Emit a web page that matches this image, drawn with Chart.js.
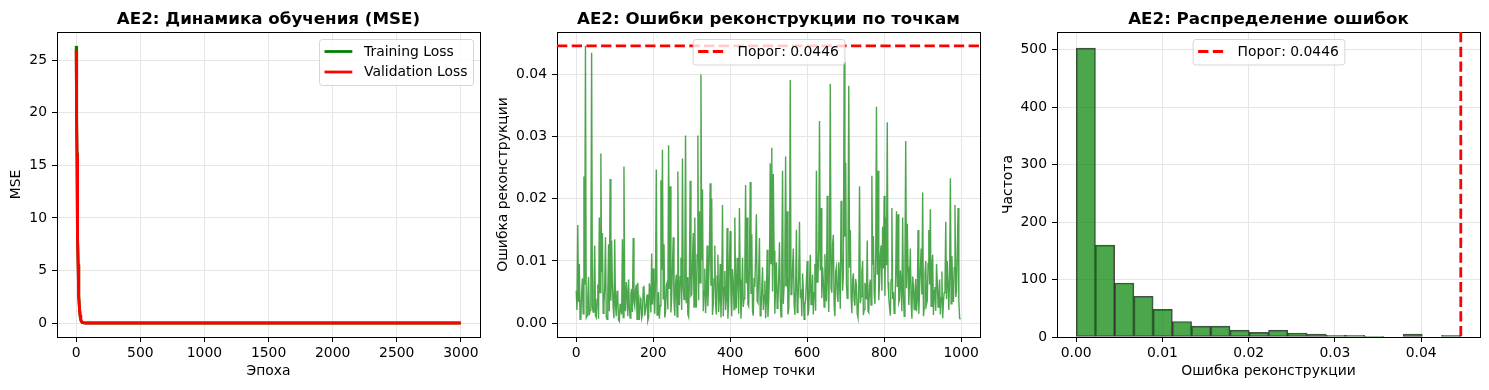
<!DOCTYPE html>
<html>
<head>
<meta charset="utf-8">
<script src="https://cdn.jsdelivr.net/npm/chart.js@4.4.1/dist/chart.umd.min.js"></script>
<style>
    html, body { margin: 0; padding: 0; background: #fff; }
    #wrap { position: relative; width: 1489px; height: 390px; }
    canvas { position: absolute; top: 0; }
</style>
</head>
<body>
<div id="wrap">
    <canvas id="lossChart" width="490" height="390" style="left:0px"></canvas>
    <canvas id="errorChart" width="500" height="390" style="left:490px"></canvas>
    <canvas id="histChart" width="499" height="390" style="left:990px"></canvas>
</div>
<script>
// --- panel 1: learning curves ---
const epochs = [0, 2, 4, 6, 8, 10, 12, 15, 18, 21, 25, 30, 35, 40, 50, 60, 80, 100, 200, 500, 1000, 1500, 2000, 2500, 2999];
const trainLoss = [26.37, 23.0, 19.5, 16.2, 13.2, 10.5, 8.2, 5.6, 3.8, 2.6, 1.5, 0.75, 0.35, 0.17, 0.05, 0.02, 0.012, 0.01, 0.008, 0.007, 0.006, 0.006, 0.005, 0.005, 0.005];
const valLoss = [25.95, 22.6, 19.2, 15.9, 12.9, 10.3, 8.0, 5.5, 3.7, 2.5, 1.45, 0.72, 0.34, 0.16, 0.05, 0.02, 0.012, 0.01, 0.008, 0.007, 0.006, 0.006, 0.005, 0.005, 0.005];
const epochTicks = [0, 500, 1000, 1500, 2000, 2500, 3000];
const lossTicks = [0, 5, 10, 15, 20, 25];

// --- panel 2: per-point reconstruction error (every 2nd point) ---
const pointStep = 2;
const pointErrors = [
    0.0052, 0.0021, 0.0158, 0.0034, 0.0095, 0.0006, 0.0008, 0.0048, 0.0072, 0.0015, 0.0236, 0.0062, 0.0446, 0.0009, 0.0012, 0.0041, 0.0074, 0.0013, 0.0021, 0.0067,
    0.0435, 0.0027, 0.0018, 0.0055, 0.0125, 0.0012, 0.0009, 0.0038, 0.0062, 0.0007, 0.0170, 0.0049, 0.0273, 0.0082, 0.0145, 0.0016, 0.0031, 0.0058, 0.0138, 0.0010,
    0.0006, 0.0044, 0.0127, 0.0019, 0.0232, 0.0036, 0.0133, 0.0061, 0.0024, 0.0008, 0.0135, 0.0029, 0.0011, 0.0052, 0.0040, 0.0005, 0.0003, 0.0031, 0.0022, 0.0014,
    0.0135, 0.0009, 0.0252, 0.0043, 0.0019, 0.0066, 0.0048, 0.0011, 0.0070, 0.0025, 0.0008, 0.0047, 0.0055, 0.0018, 0.0137, 0.0035, 0.0027, 0.0053, 0.0062, 0.0006,
    0.0065, 0.0023, 0.0005, 0.0040, 0.0036, 0.0008, 0.0014, 0.0057, 0.0060, 0.0012, 0.0021, 0.0033, 0.0046, 0.0004, 0.0009, 0.0064, 0.0052, 0.0017, 0.0112, 0.0030,
    0.0088, 0.0042, 0.0015, 0.0071, 0.0247, 0.0013, 0.0034, 0.0050, 0.0007, 0.0028, 0.0230, 0.0086, 0.0279, 0.0039, 0.0127, 0.0009, 0.0018, 0.0061, 0.0065, 0.0022,
    0.0286, 0.0055, 0.0220, 0.0017, 0.0041, 0.0092, 0.0138, 0.0034, 0.0012, 0.0063, 0.0078, 0.0010, 0.0244, 0.0048, 0.0029, 0.0075, 0.0105, 0.0021, 0.0265, 0.0058,
    0.0038, 0.0081, 0.0302, 0.0032, 0.0074, 0.0014, 0.0010, 0.0069, 0.0229, 0.0044, 0.0046, 0.0097, 0.0145, 0.0026, 0.0170, 0.0053, 0.0025, 0.0110, 0.0302, 0.0037,
    0.0180, 0.0065, 0.0400, 0.0102, 0.0215, 0.0019, 0.0052, 0.0088, 0.0016, 0.0045, 0.0125, 0.0027, 0.0068, 0.0113, 0.0225, 0.0060, 0.0200, 0.0013, 0.0031, 0.0072,
    0.0125, 0.0030, 0.0014, 0.0076, 0.0110, 0.0018, 0.0043, 0.0095, 0.0009, 0.0056, 0.0190, 0.0011, 0.0057, 0.0084, 0.0021, 0.0039, 0.0153, 0.0007, 0.0035, 0.0101,
    0.0148, 0.0049, 0.0011, 0.0087, 0.0066, 0.0022, 0.0170, 0.0058, 0.0024, 0.0105, 0.0082, 0.0015, 0.0185, 0.0070, 0.0007, 0.0044, 0.0105, 0.0026, 0.0039, 0.0079,
    0.0222, 0.0064, 0.0170, 0.0030, 0.0027, 0.0091, 0.0227, 0.0047, 0.0143, 0.0019, 0.0012, 0.0073, 0.0058, 0.0108, 0.0175, 0.0036, 0.0033, 0.0082, 0.0137, 0.0012,
    0.0019, 0.0055, 0.0090, 0.0021, 0.0044, 0.0068, 0.0008, 0.0035, 0.0118, 0.0010, 0.0036, 0.0079, 0.0257, 0.0096, 0.0282, 0.0051, 0.0240, 0.0117, 0.0015, 0.0063,
    0.0098, 0.0024, 0.0032, 0.0072, 0.0130, 0.0043, 0.0010, 0.0088, 0.0245, 0.0031, 0.0061, 0.0105, 0.0268, 0.0059, 0.0180, 0.0014, 0.0023, 0.0077, 0.0391, 0.0046,
    0.0047, 0.0090, 0.0120, 0.0033, 0.0013, 0.0061, 0.0150, 0.0017, 0.0028, 0.0074, 0.0163, 0.0040, 0.0054, 0.0011, 0.0080, 0.0052, 0.0006, 0.0029, 0.0037, 0.0068,
    0.0100, 0.0012, 0.0021, 0.0057, 0.0110, 0.0030, 0.0045, 0.0078, 0.0014, 0.0049, 0.0095, 0.0020, 0.0245, 0.0066, 0.0072, 0.0118, 0.0325, 0.0085, 0.0185, 0.0040,
    0.0090, 0.0067, 0.0026, 0.0111, 0.0060, 0.0035, 0.0205, 0.0072, 0.0018, 0.0104, 0.0385, 0.0056, 0.0049, 0.0127, 0.0142, 0.0028, 0.0011, 0.0083, 0.0090, 0.0046,
    0.0034, 0.0098, 0.0068, 0.0023, 0.0197, 0.0115, 0.0052, 0.0076, 0.0420, 0.0139, 0.0258, 0.0062, 0.0040, 0.0107, 0.0382, 0.0089, 0.0150, 0.0043, 0.0016, 0.0070,
    0.0080, 0.0036, 0.0028, 0.0071, 0.0060, 0.0015, 0.0009, 0.0054, 0.0220, 0.0032, 0.0043, 0.0082, 0.0100, 0.0013, 0.0022, 0.0065, 0.0056, 0.0038, 0.0133, 0.0019,
    0.0017, 0.0061, 0.0070, 0.0029, 0.0237, 0.0094, 0.0140, 0.0048, 0.0031, 0.0106, 0.0348, 0.0078, 0.0245, 0.0037, 0.0065, 0.0112, 0.0125, 0.0052, 0.0155, 0.0088,
    0.0205, 0.0044, 0.0170, 0.0093, 0.0323, 0.0066, 0.0041, 0.0025, 0.0012, 0.0070, 0.0185, 0.0039, 0.0050, 0.0016, 0.0027, 0.0081, 0.0180, 0.0058, 0.0175, 0.0033,
    0.0038, 0.0085, 0.0064, 0.0019, 0.0170, 0.0047, 0.0011, 0.0102, 0.0293, 0.0056, 0.0160, 0.0090, 0.0029, 0.0068, 0.0120, 0.0034, 0.0007, 0.0075, 0.0060, 0.0022,
    0.0045, 0.0071, 0.0019, 0.0038, 0.0150, 0.0015, 0.0053, 0.0087, 0.0120, 0.0046, 0.0210, 0.0011, 0.0024, 0.0079, 0.0100, 0.0030, 0.0036, 0.0096, 0.0150, 0.0062,
    0.0183, 0.0027, 0.0090, 0.0110, 0.0013, 0.0052, 0.0058, 0.0020, 0.0095, 0.0067, 0.0026, 0.0043, 0.0070, 0.0014, 0.0041, 0.0083, 0.0008, 0.0035, 0.0049, 0.0061,
    0.0163, 0.0039, 0.0100, 0.0064, 0.0021, 0.0076, 0.0233, 0.0031, 0.0108, 0.0055, 0.0034, 0.0089, 0.0190, 0.0042, 0.0052, 0.0120, 0.0185, 0.0036, 0.0008, 0.0006
];
const pointTicks = [0, 200, 400, 600, 800, 1000];
const errorTicks = [0, 0.01, 0.02, 0.03, 0.04];

const threshold = 0.0446;

// --- panel 3: histogram ---
const binEdges = [0, 0.00223, 0.00446, 0.00669, 0.00892, 0.01115, 0.01338, 0.01561, 0.01784, 0.02007, 0.0223,
    0.02453, 0.02676, 0.02899, 0.03122, 0.03345, 0.03568, 0.03791, 0.04014, 0.04237, 0.0446];
const binCounts = [503, 160, 94, 71, 48, 27, 19, 19, 12, 8, 12, 7, 5, 3, 3, 1, 0, 5, 0, 3];
const histXTicks = [0, 0.01, 0.02, 0.03, 0.04];
const freqTicks = [0, 100, 200, 300, 400, 500];

const FONT = "'DejaVu Sans', sans-serif";
const FS = 13.9;

function makeScale(min, max, tickValues, fmt, size, titleText, titlePad, horizontal) {
    return {
        type: 'linear',
        min: min,
        max: max,
        offset: false,
        afterBuildTicks: s => { s.ticks = tickValues.map(v => ({ value: v })); },
        afterFit: s => { if (horizontal) s.height = size; else s.width = size; },
        ticks: {
            font: { family: FONT, size: FS },
            color: '#000',
            padding: horizontal ? 3 : 5,
            autoSkip: false,
            maxRotation: 0,
            callback: v => fmt(v)
        },
        grid: { offset: false, color: '#e6e6e6', lineWidth: 1, tickColor: '#000', tickLength: 5, tickWidth: 1 },
        border: { display: true, color: '#000', width: 1 },
        title: {
            display: true,
            text: titleText,
            color: '#000',
            font: { family: FONT, size: FS },
            padding: horizontal ? { top: 0, bottom: titlePad } : { top: titlePad, bottom: 0 }
        }
    };
}

// zero-size axis on the top / right, only there to draw the closing spine
function spine(position, axis) {
    return {
        type: 'linear',
        position: position,
        axis: axis,
        min: 0,
        max: 1,
        offset: false,
        afterBuildTicks: s => { s.ticks = []; },
        afterFit: s => { if (axis === 'x') s.height = 0; else s.width = 0; },
        ticks: { display: false },
        grid: { display: true, drawOnChartArea: false, drawTicks: false },
        border: { display: true, color: '#000', width: 1 },
        title: { display: false }
    };
}

// title, reference line and legend drawn the matplotlib way
function decorations(title, legendItems, legendAt, refLine) {
    return {
        id: 'decorations',
        afterDatasetsDraw(chart) {
            if (!refLine) return;
            const { ctx, chartArea: a, scales } = chart;
            ctx.save();
            ctx.beginPath();
            ctx.rect(a.left, a.top, a.right - a.left, a.bottom - a.top);
            ctx.clip();
            ctx.strokeStyle = '#ff0000';
            ctx.lineWidth = 2.78;
            ctx.setLineDash([10.3, 4.4]);
            ctx.beginPath();
            if (refLine.axis === 'y') {
                const y = scales.y.getPixelForValue(refLine.value);
                ctx.moveTo(a.left, y);
                ctx.lineTo(a.right, y);
            } else {
                const x = scales.x.getPixelForValue(refLine.value);
                ctx.moveTo(x, a.top);
                ctx.lineTo(x, a.bottom);
            }
            ctx.stroke();
            ctx.restore();
        },
        afterDraw(chart) {
            const { ctx, chartArea: a } = chart;
            ctx.save();
            ctx.fillStyle = '#000';
            ctx.font = `bold 16.7px ${FONT}`;
            ctx.textAlign = 'center';
            ctx.textBaseline = 'alphabetic';
            ctx.fillText(title, (a.left + a.right) / 2, a.top - 8.3);

            ctx.font = `${FS}px ${FONT}`;
            const textW = Math.max(...legendItems.map(it => ctx.measureText(it.label).width));
            const w = 45 + textW + 5.5;
            const h = 25.5 + (legendItems.length - 1) * 20.5;
            const left = legendAt === 'right' ? a.right - 7 - w : (a.left + a.right) / 2 - w / 2;
            const top = a.top + 7;
            ctx.beginPath();
            ctx.roundRect(left + 0.5, top + 0.5, w, h, 2.8);
            ctx.fillStyle = 'rgba(255,255,255,0.8)';
            ctx.fill();
            ctx.strokeStyle = 'rgba(204,204,204,0.8)';
            ctx.lineWidth = 1;
            ctx.stroke();
            legendItems.forEach((it, i) => {
                const cy = top + 12.5 + i * 20.5;
                ctx.beginPath();
                ctx.strokeStyle = it.color;
                ctx.lineWidth = 2.78;
                ctx.setLineDash(it.dash || []);
                ctx.moveTo(left + 5.5, cy);
                ctx.lineTo(left + 5.5 + 27.8, cy);
                ctx.stroke();
                ctx.setLineDash([]);
                ctx.fillStyle = '#000';
                ctx.textAlign = 'left';
                ctx.textBaseline = 'middle';
                ctx.fillText(it.label, left + 45, cy + 0.5);
            });
            ctx.restore();
        }
    };
}

const baseOptions = {
    responsive: false,
    animation: false,
    devicePixelRatio: 1,
    plugins: { legend: { display: false }, tooltip: { enabled: false }, title: { display: false } }
};

// Panel 1
new Chart(document.getElementById('lossChart').getContext('2d'), {
    type: 'line',
    data: {
        datasets: [
            {
                label: 'Training Loss',
                data: epochs.map((e, i) => ({ x: e, y: trainLoss[i] })),
                borderColor: '#008000',
                borderWidth: 2.9,
                pointRadius: 0,
                tension: 0,
                order: 2
            },
            {
                label: 'Validation Loss',
                data: epochs.map((e, i) => ({ x: e, y: valLoss[i] })),
                borderColor: '#ff0000',
                borderWidth: 2.9,
                pointRadius: 0,
                tension: 0,
                order: 1
            }
        ]
    },
    options: {
        ...baseOptions,
        layout: { padding: { left: 0, right: 10, top: 32, bottom: 0 } },
        scales: {
            x: makeScale(-150, 3149, epochTicks, v => String(v), 53, 'Эпоха', 10, true),
            y: makeScale(-1.32, 27.69, lossTicks, v => String(v), 57, 'MSE', 8, false),
            xTop: spine('top', 'x'),
            yRight: spine('right', 'y')
        }
    },
    plugins: [decorations('AE2: Динамика обучения (MSE)', [
        { label: 'Training Loss', color: '#008000' },
        { label: 'Validation Loss', color: '#ff0000' }
    ], 'right', null)]
});

// Panel 2
new Chart(document.getElementById('errorChart').getContext('2d'), {
    type: 'line',
    data: {
        datasets: [{
            label: 'Ошибка',
            data: pointErrors.map((v, i) => ({ x: i * pointStep, y: v })),
            borderColor: 'rgba(0,128,0,0.7)',
            borderWidth: 1.4,
            pointRadius: 0,
            tension: 0
        }]
    },
    options: {
        ...baseOptions,
        layout: { padding: { left: 0, right: 10, top: 32, bottom: 0 } },
        scales: {
            x: makeScale(-49.95, 1048.95, pointTicks, v => String(v), 53, 'Номер точки', 10, true),
            y: makeScale(-0.00223, 0.04683, errorTicks, v => v.toFixed(2), 67, 'Ошибка реконструкции', 5, false),
            xTop: spine('top', 'x'),
            yRight: spine('right', 'y')
        }
    },
    plugins: [decorations('AE2: Ошибки реконструкции по точкам', [
        { label: `Порог: ${threshold}`, color: '#ff0000', dash: [10.3, 4.4] }
    ], 'center', { axis: 'y', value: threshold })]
});

// Panel 3
new Chart(document.getElementById('histChart').getContext('2d'), {
    type: 'bar',
    data: {
        datasets: [{
            label: 'Частота',
            data: binCounts.map((c, i) => ({ x: (binEdges[i] + binEdges[i + 1]) / 2, y: c })),
            backgroundColor: 'rgba(0,128,0,0.7)',
            borderColor: 'rgba(0,0,0,0.7)',
            borderWidth: 1,
            borderSkipped: false,
            barPercentage: 1,
            categoryPercentage: 1
        }]
    },
    options: {
        ...baseOptions,
        layout: { padding: { left: 0, right: 9, top: 32, bottom: 0 } },
        scales: {
            x: makeScale(-0.00223, 0.04683, histXTicks, v => v.toFixed(2), 53, 'Ошибка реконструкции', 10, true),
            y: makeScale(0, 531, freqTicks, v => String(v), 67, 'Частота', 10.3, false),
            xTop: spine('top', 'x'),
            yRight: spine('right', 'y')
        }
    },
    plugins: [decorations('AE2: Распределение ошибок', [
        { label: `Порог: ${threshold}`, color: '#ff0000', dash: [10.3, 4.4] }
    ], 'center', { axis: 'x', value: threshold })]
});
</script>
</body>
</html>
